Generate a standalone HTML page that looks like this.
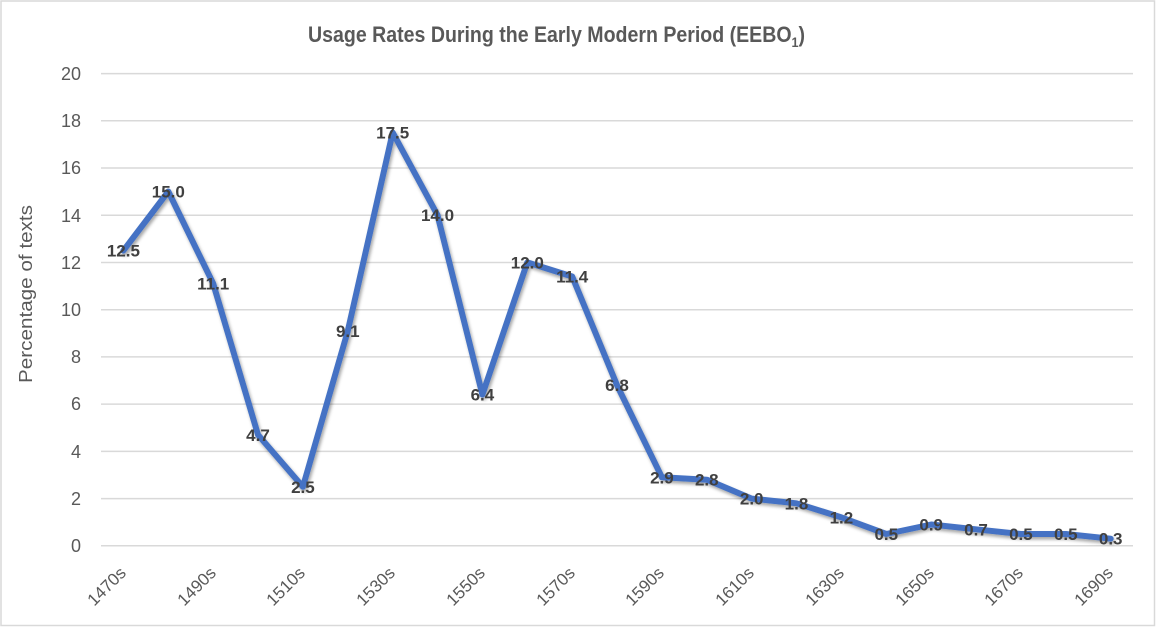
<!DOCTYPE html>
<html><head><meta charset="utf-8"><style>
html,body{margin:0;padding:0;background:#fff;}
svg{display:block;}
</style></head><body>
<svg width="1156" height="627" viewBox="0 0 1156 627" xmlns="http://www.w3.org/2000/svg">
<defs>
<filter id="sh" x="-5%" y="-5%" width="110%" height="110%">
<feDropShadow dx="1.5" dy="2.5" stdDeviation="1.5" flood-color="#000" flood-opacity="0.35"/>
</filter>
</defs>
<rect x="0" y="0" width="1156" height="627" fill="#fff"/>
<rect x="1" y="1" width="1153.5" height="624.5" fill="none" stroke="#d9d9d9" stroke-width="1.5"/>
<text x="556.5" y="42" text-anchor="middle" font-family="Liberation Sans, sans-serif" font-weight="bold" font-size="22" fill="#595959" textLength="497" lengthAdjust="spacingAndGlyphs">Usage Rates During the Early Modern Period (EEBO<tspan font-size="14" dy="5">1</tspan><tspan dy="-5">)</tspan></text>
<g stroke="#d9d9d9" stroke-width="1.5">
<line x1="101" y1="73.6" x2="1133" y2="73.6"/>
<line x1="101" y1="120.8" x2="1133" y2="120.8"/>
<line x1="101" y1="168.0" x2="1133" y2="168.0"/>
<line x1="101" y1="215.3" x2="1133" y2="215.3"/>
<line x1="101" y1="262.5" x2="1133" y2="262.5"/>
<line x1="101" y1="309.7" x2="1133" y2="309.7"/>
<line x1="101" y1="356.9" x2="1133" y2="356.9"/>
<line x1="101" y1="404.1" x2="1133" y2="404.1"/>
<line x1="101" y1="451.4" x2="1133" y2="451.4"/>
<line x1="101" y1="498.6" x2="1133" y2="498.6"/>
<line x1="101" y1="545.8" x2="1133" y2="545.8"/>
</g>
<g font-family="Liberation Sans, sans-serif" font-size="18" fill="#595959" text-anchor="end">
<text x="81" y="80">20</text>
<text x="81" y="127">18</text>
<text x="81" y="174">16</text>
<text x="81" y="222">14</text>
<text x="81" y="269">12</text>
<text x="81" y="316">10</text>
<text x="81" y="363">8</text>
<text x="81" y="410">6</text>
<text x="81" y="458">4</text>
<text x="81" y="505">2</text>
<text x="81" y="552">0</text>
</g>
<text transform="translate(32,294) rotate(-90)" text-anchor="middle" font-family="Liberation Sans, sans-serif" font-size="18" fill="#595959" textLength="178" lengthAdjust="spacingAndGlyphs">Percentage of texts</text>
<g font-family="Liberation Sans, sans-serif" font-size="17" fill="#595959" text-anchor="end">
<text transform="translate(127,574) rotate(-45)">1470s</text>
<text transform="translate(217,574) rotate(-45)">1490s</text>
<text transform="translate(306,574) rotate(-45)">1510s</text>
<text transform="translate(396,574) rotate(-45)">1530s</text>
<text transform="translate(486,574) rotate(-45)">1550s</text>
<text transform="translate(576,574) rotate(-45)">1570s</text>
<text transform="translate(665,574) rotate(-45)">1590s</text>
<text transform="translate(755,574) rotate(-45)">1610s</text>
<text transform="translate(845,574) rotate(-45)">1630s</text>
<text transform="translate(935,574) rotate(-45)">1650s</text>
<text transform="translate(1024,574) rotate(-45)">1670s</text>
<text transform="translate(1114,574) rotate(-45)">1690s</text>
</g>
<polyline filter="url(#sh)" fill="none" stroke="#4472c4" stroke-width="6" stroke-linejoin="round" stroke-linecap="round" points="123.4,250.6 168.3,191.5 213.2,283.6 258.0,434.8 302.9,486.8 347.8,330.9 392.7,132.5 437.5,215.1 482.4,394.6 527.3,262.4 572.2,276.5 617.0,385.2 661.9,477.3 706.8,479.7 751.7,498.6 796.5,503.3 841.4,517.4 886.3,534.0 931.2,524.5 976.0,529.3 1020.9,534.0 1065.8,534.0 1110.7,538.7"/>
<g font-family="Liberation Sans, sans-serif" font-weight="bold" font-size="17" fill="#404040" text-anchor="middle">
<text x="123.4" y="256.6">12.5</text>
<text x="168.3" y="197.5">15.0</text>
<text x="213.2" y="289.6">11.1</text>
<text x="258.0" y="440.8">4.7</text>
<text x="302.9" y="492.8">2.5</text>
<text x="347.8" y="336.9">9.1</text>
<text x="392.7" y="138.5">17.5</text>
<text x="437.5" y="221.1">14.0</text>
<text x="482.4" y="400.6">6.4</text>
<text x="527.3" y="268.4">12.0</text>
<text x="572.2" y="282.5">11.4</text>
<text x="617.0" y="391.2">6.8</text>
<text x="661.9" y="483.3">2.9</text>
<text x="706.8" y="485.7">2.8</text>
<text x="751.7" y="504.6">2.0</text>
<text x="796.5" y="509.3">1.8</text>
<text x="841.4" y="523.4">1.2</text>
<text x="886.3" y="540.0">0.5</text>
<text x="931.2" y="530.5">0.9</text>
<text x="976.0" y="535.3">0.7</text>
<text x="1020.9" y="540.0">0.5</text>
<text x="1065.8" y="540.0">0.5</text>
<text x="1110.7" y="544.7">0.3</text>
</g>
</svg>
</body></html>
